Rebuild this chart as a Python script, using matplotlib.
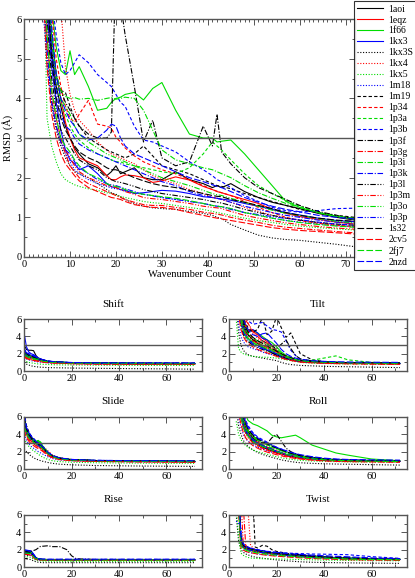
import matplotlib
matplotlib.use('Agg')
import matplotlib.pyplot as plt
from matplotlib.ticker import MultipleLocator

plt.rcParams['font.family'] = ['Liberation Serif', 'DejaVu Serif']

labels = ['1aoi', '1eqz', '1f66', '1kx3', '1kx3S', '1kx4', '1kx5', '1m18', '1m19', '1p34',
          '1p3a', '1p3b', '1p3f', '1p3g', '1p3i', '1p3k', '1p3l', '1p3m', '1p3o', '1p3p',
          '1s32', '2cv5', '2fj7', '2nzd']

# main panel: total RMSD vs wavenumber count
x_main = [4, 5, 6, 7, 8, 9, 10, 11, 12, 14, 16, 18, 19, 20, 21, 22, 24, 26, 28, 30, 33, 36, 39,
          41, 42, 43, 45, 48, 51, 54, 57, 60, 64, 68, 72]
rmsd_main = [
    [9.0, 6.4, 5.2, 4.3, 3.8, 3.3, 3.0, 2.75, 2.6, 2.35, 2.25, 2.05, 2.15, 2.3, 2.1, 2.15, 2.25, 2.0, 1.95, 1.95, 2.15, 1.95, 1.85, 1.75, 1.8, 1.75, 1.85, 1.65, 1.5, 1.38, 1.3, 1.22, 1.1, 1.0, 0.93],
    [9.5, 7.0, 5.6, 4.6, 4.0, 3.4, 3.0, 2.7, 2.5, 2.4, 2.3, 2.05, 1.95, 1.95, 2.02, 2.07, 2.05, 2.0, 1.88, 1.92, 2.02, 1.94, 1.78, 1.7, 1.65, 1.62, 1.55, 1.45, 1.35, 1.2, 1.1, 1.02, 0.95, 0.88, 0.83],
    [9.0, 7.5, 6.3, 5.3, 4.7, 4.6, 5.2, 4.6, 4.8, 4.3, 3.7, 3.75, 3.9, 4.0, 4.03, 4.1, 4.15, 3.96, 4.25, 4.4, 3.7, 3.1, 3.0, 3.0, 2.9, 2.92, 2.95, 2.6, 2.2, 1.8, 1.4, 1.25, 1.12, 1.03, 0.97],
    [8.5, 6.2, 4.8, 3.9, 3.2, 2.7, 2.45, 2.35, 2.2, 2.3, 2.1, 1.85, 1.77, 1.75, 1.7, 1.68, 1.6, 1.62, 1.65, 1.68, 1.66, 1.6, 1.52, 1.5, 1.48, 1.46, 1.43, 1.35, 1.28, 1.2, 1.12, 1.06, 0.98, 0.92, 0.89],
    [7.5, 5.0, 3.8, 3.2, 2.8, 2.5, 2.3, 2.15, 2.1, 2.0, 1.85, 1.7, 1.62, 1.58, 1.52, 1.45, 1.35, 1.28, 1.24, 1.22, 1.2, 1.15, 1.1, 1.05, 1.0, 0.97, 0.82, 0.68, 0.55, 0.48, 0.44, 0.42, 0.37, 0.32, 0.26],
    [9.5, 9.0, 8.5, 7.5, 6.3, 4.8, 4.1, 3.7, 3.45, 3.2, 2.9, 2.7, 2.6, 2.55, 2.5, 2.45, 2.35, 2.2, 2.05, 1.95, 1.85, 1.7, 1.6, 1.5, 1.48, 1.45, 1.38, 1.25, 1.15, 1.05, 0.98, 0.93, 0.86, 0.8, 0.75],
    [9.0, 3.5, 2.8, 2.4, 2.1, 1.95, 1.88, 1.82, 1.78, 1.72, 1.68, 1.62, 1.6, 1.56, 1.52, 1.5, 1.45, 1.4, 1.37, 1.35, 1.3, 1.25, 1.2, 1.15, 1.12, 1.1, 1.05, 0.98, 0.92, 0.87, 0.82, 0.78, 0.74, 0.71, 0.68],
    [6.5, 4.8, 3.9, 3.3, 2.9, 2.6, 2.4, 2.2, 2.1, 1.95, 1.85, 1.78, 1.74, 1.72, 1.7, 1.66, 1.62, 1.58, 1.55, 1.5, 1.45, 1.4, 1.35, 1.3, 1.28, 1.27, 1.22, 1.12, 1.05, 0.98, 0.92, 0.88, 0.83, 0.79, 0.76],
    [9.0, 7.0, 5.2, 4.25, 4.2, 4.15, 3.8, 3.5, 3.3, 3.0, 2.85, 2.7, 2.65, 2.6, 2.55, 2.5, 2.6, 2.8, 2.55, 2.3, 2.2, 2.1, 1.95, 1.85, 1.8, 1.78, 1.72, 1.6, 1.5, 1.4, 1.3, 1.2, 1.12, 1.05, 1.0],
    [9.5, 8.0, 6.2, 5.0, 4.3, 3.8, 3.5, 3.4, 3.6, 3.95, 3.35, 3.3, 3.25, 3.02, 2.9, 2.75, 2.55, 2.4, 2.3, 2.2, 2.1, 1.95, 1.8, 1.7, 1.66, 1.62, 1.55, 1.4, 1.25, 1.12, 1.0, 0.92, 0.85, 0.8, 0.77],
    [9.0, 7.0, 5.5, 4.5, 3.9, 3.6, 3.3, 3.1, 2.95, 2.75, 2.6, 2.5, 2.45, 2.4, 2.4, 2.35, 2.3, 2.25, 2.2, 2.15, 2.1, 2.25, 2.6, 2.9, 2.8, 2.7, 2.45, 2.1, 1.8, 1.6, 1.42, 1.28, 1.12, 1.02, 0.95],
    [9.5, 8.0, 6.5, 5.6, 4.9, 4.6, 4.7, 4.9, 5.1, 4.9, 4.6, 4.4, 4.3, 4.1, 3.9, 3.8, 3.3, 2.95, 2.9, 2.8, 2.65, 2.4, 2.2, 2.05, 1.95, 1.9, 1.75, 1.55, 1.4, 1.25, 1.17, 1.13, 1.17, 1.22, 1.23],
    [9.0, 7.0, 5.5, 4.6, 4.2, 3.9, 3.7, 3.5, 3.3, 3.1, 3.0, 3.0, 3.15, 7.5, 6.4, 5.6, 4.3, 2.9, 3.45, 2.5, 2.3, 2.4, 3.3, 2.8, 3.6, 2.65, 2.35, 2.0, 1.75, 1.6, 1.45, 1.3, 1.15, 1.05, 0.95],
    [8.0, 5.5, 4.2, 3.5, 3.0, 2.6, 2.3, 2.15, 2.0, 1.85, 1.75, 1.65, 1.6, 1.55, 1.5, 1.45, 1.38, 1.32, 1.3, 1.3, 1.25, 1.2, 1.13, 1.1, 1.08, 1.06, 1.0, 0.93, 0.87, 0.8, 0.75, 0.72, 0.68, 0.64, 0.61],
    [9.0, 7.0, 5.5, 4.6, 4.2, 4.05, 4.0, 4.02, 3.98, 4.0, 3.95, 4.0, 4.02, 3.98, 4.0, 4.03, 4.0, 3.7, 3.2, 2.7, 2.45, 2.35, 2.25, 2.2, 2.15, 2.1, 2.0, 1.8, 1.62, 1.48, 1.35, 1.25, 1.12, 1.03, 0.97],
    [9.0, 7.0, 5.2, 4.2, 3.6, 3.3, 3.2, 3.0, 2.85, 2.7, 2.6, 2.5, 2.45, 2.4, 2.35, 2.3, 2.2, 2.1, 2.0, 1.9, 1.8, 1.65, 1.55, 1.5, 1.48, 1.45, 1.38, 1.28, 1.2, 1.12, 1.05, 1.0, 0.93, 0.88, 0.85],
    [8.5, 6.0, 4.5, 3.7, 3.2, 3.0, 2.8, 2.6, 2.45, 2.3, 2.2, 2.0, 1.95, 1.9, 1.88, 1.85, 1.78, 1.7, 1.65, 1.6, 1.55, 1.5, 1.45, 1.4, 1.38, 1.36, 1.3, 1.2, 1.12, 1.05, 0.98, 0.93, 0.87, 0.83, 0.8],
    [8.0, 5.5, 4.0, 3.3, 2.9, 2.7, 2.5, 2.3, 2.15, 2.0, 1.9, 1.8, 1.78, 1.75, 1.7, 1.65, 1.58, 1.5, 1.47, 1.45, 1.4, 1.35, 1.28, 1.25, 1.24, 1.22, 1.15, 1.05, 0.98, 0.92, 0.86, 0.82, 0.77, 0.73, 0.7],
    [9.0, 7.5, 5.8, 4.6, 4.0, 3.8, 3.6, 3.3, 3.1, 2.9, 2.75, 2.6, 2.55, 2.5, 2.45, 2.4, 2.3, 2.2, 2.1, 2.0, 1.9, 1.8, 1.68, 1.6, 1.57, 1.55, 1.48, 1.38, 1.28, 1.18, 1.1, 1.05, 0.97, 0.9, 0.86],
    [7.5, 5.2, 3.9, 3.3, 2.9, 2.7, 2.6, 2.4, 2.25, 2.1, 1.95, 1.85, 1.82, 1.8, 1.76, 1.72, 1.65, 1.58, 1.54, 1.5, 1.45, 1.4, 1.35, 1.3, 1.28, 1.26, 1.2, 1.12, 1.07, 1.02, 0.97, 0.94, 0.88, 0.83, 0.8],
    [9.0, 6.8, 5.0, 4.0, 3.5, 3.2, 3.0, 2.8, 2.65, 2.5, 2.4, 2.25, 2.2, 2.2, 2.15, 2.1, 2.0, 1.92, 1.85, 1.8, 1.75, 1.68, 1.6, 1.55, 1.53, 1.52, 1.45, 1.38, 1.3, 1.22, 1.12, 1.05, 0.98, 0.93, 0.9],
    [7.0, 4.8, 3.6, 3.0, 2.6, 2.35, 2.2, 2.05, 1.92, 1.75, 1.65, 1.55, 1.5, 1.48, 1.45, 1.4, 1.32, 1.28, 1.25, 1.25, 1.2, 1.12, 1.05, 1.0, 0.98, 0.96, 0.92, 0.86, 0.8, 0.74, 0.7, 0.67, 0.64, 0.61, 0.58],
    [8.0, 5.6, 4.2, 3.5, 3.0, 2.8, 2.65, 2.45, 2.3, 2.1, 2.0, 1.85, 1.8, 1.78, 1.75, 1.7, 1.62, 1.58, 1.55, 1.52, 1.48, 1.42, 1.35, 1.3, 1.28, 1.27, 1.22, 1.12, 1.05, 0.98, 0.92, 0.87, 0.82, 0.78, 0.75],
    [9.0, 7.5, 5.8, 4.6, 4.0, 3.7, 3.45, 3.3, 3.1, 2.95, 3.0, 3.2, 3.35, 3.3, 3.0, 2.8, 2.6, 2.5, 2.4, 2.3, 2.15, 2.0, 1.9, 1.82, 1.78, 1.75, 1.65, 1.5, 1.38, 1.28, 1.2, 1.14, 1.05, 1.0, 0.96],
]

x_shift = [0, 1, 2, 3, 4, 5, 6, 8, 10, 14, 20, 30, 45, 60, 72]
shift = [
    [3.0, 2.5, 2.4, 2.4, 2.35, 1.8, 1.5, 1.25, 1.1, 1.0, 0.92, 0.88, 0.85, 0.86, 0.85],
    [2.0, 1.8, 1.7, 1.6, 1.5, 1.4, 1.3, 1.15, 1.05, 0.98, 0.92, 0.88, 0.86, 0.85, 0.84],
    [2.2, 1.9, 1.75, 1.6, 1.55, 1.45, 1.35, 1.2, 1.1, 1.02, 0.95, 0.9, 0.88, 0.87, 0.86],
    [4.4, 2.8, 2.2, 2.0, 1.9, 1.7, 1.5, 1.3, 1.15, 1.05, 0.95, 0.9, 0.88, 0.87, 0.86],
    [1.0, 0.8, 0.7, 0.6, 0.55, 0.5, 0.47, 0.43, 0.4, 0.38, 0.35, 0.32, 0.28, 0.25, 0.22],
    [1.8, 1.6, 1.5, 1.4, 1.35, 1.3, 1.25, 1.15, 1.05, 0.98, 0.92, 0.88, 0.85, 0.84, 0.83],
    [1.3, 1.1, 1.0, 0.95, 0.9, 0.86, 0.82, 0.78, 0.75, 0.72, 0.7, 0.68, 0.66, 0.65, 0.64],
    [1.6, 1.4, 1.3, 1.2, 1.15, 1.1, 1.05, 1.0, 0.95, 0.9, 0.86, 0.83, 0.8, 0.8, 0.79],
    [2.4, 2.0, 1.8, 1.7, 1.65, 1.55, 1.4, 1.25, 1.12, 1.03, 0.96, 0.92, 0.9, 0.9, 0.89],
    [1.9, 1.7, 1.6, 1.5, 1.45, 1.4, 1.3, 1.18, 1.08, 1.0, 0.93, 0.88, 0.86, 0.85, 0.85],
    [2.1, 1.8, 1.7, 1.6, 1.5, 1.42, 1.35, 1.22, 1.1, 1.02, 0.96, 0.9, 0.88, 0.87, 0.86],
    [2.6, 2.2, 2.0, 1.9, 1.85, 1.7, 1.5, 1.3, 1.15, 1.05, 0.98, 0.95, 0.93, 0.93, 0.92],
    [2.3, 2.0, 1.85, 1.7, 1.6, 1.5, 1.4, 1.25, 1.12, 1.04, 0.96, 0.92, 0.9, 0.89, 0.88],
    [1.7, 1.5, 1.4, 1.3, 1.25, 1.2, 1.15, 1.05, 0.98, 0.92, 0.86, 0.82, 0.8, 0.79, 0.78],
    [2.0, 1.75, 1.6, 1.5, 1.45, 1.4, 1.3, 1.18, 1.08, 1.0, 0.94, 0.9, 0.88, 0.87, 0.87],
    [2.5, 2.1, 1.9, 1.8, 1.7, 1.6, 1.45, 1.28, 1.12, 1.03, 0.96, 0.91, 0.89, 0.88, 0.88],
    [2.1, 1.85, 1.7, 1.6, 1.55, 1.45, 1.35, 1.2, 1.08, 1.0, 0.93, 0.89, 0.87, 0.86, 0.86],
    [1.8, 1.6, 1.5, 1.4, 1.35, 1.3, 1.22, 1.1, 1.02, 0.95, 0.88, 0.84, 0.82, 0.81, 0.8],
    [2.2, 1.9, 1.75, 1.65, 1.6, 1.5, 1.4, 1.25, 1.12, 1.04, 0.97, 0.92, 0.9, 0.9, 0.89],
    [2.0, 1.75, 1.6, 1.5, 1.45, 1.38, 1.3, 1.18, 1.07, 0.99, 0.93, 0.89, 0.87, 0.86, 0.86],
    [2.3, 2.0, 1.85, 1.75, 1.65, 1.55, 1.42, 1.27, 1.13, 1.04, 0.97, 0.93, 0.91, 0.9, 0.9],
    [1.6, 1.45, 1.35, 1.28, 1.22, 1.18, 1.12, 1.03, 0.96, 0.9, 0.85, 0.81, 0.79, 0.78, 0.77],
    [1.9, 1.7, 1.55, 1.45, 1.4, 1.35, 1.28, 1.15, 1.05, 0.98, 0.92, 0.88, 0.86, 0.85, 0.85],
    [2.4, 2.1, 1.95, 1.85, 1.75, 1.62, 1.48, 1.3, 1.15, 1.06, 0.99, 0.95, 0.94, 0.95, 0.94],
]

x_tilt = [3, 4, 5, 6, 7, 8, 10, 12, 14, 16, 18, 20, 22, 24, 26, 28, 30, 35, 40, 45, 50, 60, 72]
tilt = [
    [9, 8, 6.5, 5.0, 4.5, 4.2, 3.6, 3.2, 2.8, 2.4, 2.1, 1.8, 1.6, 1.4, 1.3, 1.2, 1.1, 1.0, 0.95, 0.92, 0.9, 0.88, 0.86],
    [9, 8, 7, 6.0, 5.2, 4.8, 4.6, 4.2, 3.8, 3.4, 3.0, 2.4, 1.9, 1.6, 1.4, 1.25, 1.12, 1.0, 0.95, 0.93, 0.9, 0.88, 0.86],
    [9, 8, 6.8, 5.5, 5.0, 4.6, 4.7, 4.4, 4.0, 3.6, 3.3, 2.8, 2.2, 1.8, 1.5, 1.3, 1.15, 1.05, 1.0, 0.98, 0.95, 0.9, 0.88],
    [9, 8, 6.2, 5.2, 4.6, 4.5, 4.8, 4.4, 3.8, 3.6, 3.0, 2.3, 1.8, 1.5, 1.3, 1.18, 1.1, 1.0, 0.96, 0.94, 0.92, 0.9, 0.88],
    [8, 4.5, 3.0, 2.4, 2.1, 1.9, 1.7, 1.6, 1.5, 1.4, 1.3, 1.2, 1.0, 0.85, 0.75, 0.7, 0.65, 0.6, 0.55, 0.52, 0.5, 0.45, 0.4],
    [9, 9, 8, 7, 6.2, 5.5, 4.4, 3.8, 3.3, 3.0, 2.7, 2.3, 1.9, 1.6, 1.4, 1.25, 1.15, 1.05, 1.0, 0.96, 0.92, 0.88, 0.85],
    [6.0, 2.6, 2.2, 2.0, 1.9, 1.8, 1.7, 1.65, 1.6, 1.6, 1.55, 1.5, 1.4, 1.3, 1.2, 1.1, 1.0, 0.92, 0.88, 0.85, 0.82, 0.8, 0.78],
    [8, 5.5, 4.0, 3.4, 3.0, 2.8, 2.6, 2.4, 2.2, 2.0, 1.9, 1.75, 1.6, 1.45, 1.3, 1.2, 1.1, 1.0, 0.95, 0.9, 0.88, 0.86, 0.84],
    [9, 8, 7, 6.2, 5.5, 5.0, 4.5, 4.8, 6.2, 4.2, 4.6, 6.3, 5.0, 3.9, 4.4, 3.2, 2.0, 1.3, 1.1, 1.0, 0.96, 0.92, 0.9],
    [9, 8.5, 7, 6.0, 5.2, 4.6, 3.8, 3.3, 3.0, 2.7, 2.4, 2.0, 1.7, 1.5, 1.35, 1.22, 1.12, 1.02, 0.97, 0.93, 0.9, 0.87, 0.85],
    [9, 7.5, 5.8, 4.6, 4.0, 3.6, 3.2, 3.0, 2.7, 2.4, 2.2, 2.0, 1.8, 1.6, 1.4, 1.3, 1.2, 1.25, 1.5, 1.75, 1.3, 1.0, 0.95],
    [9, 9, 8, 7, 6.2, 5.8, 5.4, 5.5, 5.6, 5.2, 4.8, 4.7, 4.5, 3.5, 2.4, 1.8, 1.4, 1.15, 1.05, 1.0, 0.98, 0.96, 0.95],
    [9, 8, 6.5, 5.4, 4.7, 4.2, 3.6, 3.3, 3.5, 3.2, 2.9, 2.6, 3.1, 3.6, 2.6, 1.8, 1.4, 1.15, 1.05, 1.0, 0.96, 0.93, 0.9],
    [9, 8.5, 6.5, 6.2, 5.8, 5.5, 4.6, 4.0, 3.5, 3.2, 2.8, 2.3, 1.9, 1.6, 1.4, 1.25, 1.12, 1.02, 0.96, 0.92, 0.89, 0.86, 0.84],
    [9, 7, 5.5, 4.5, 4.0, 3.7, 3.4, 3.2, 3.0, 2.8, 2.5, 2.2, 1.9, 1.65, 1.45, 1.3, 1.2, 1.1, 1.05, 1.0, 0.96, 0.92, 0.9],
    [9, 7.5, 6.0, 4.8, 4.3, 3.8, 3.2, 2.9, 2.7, 2.5, 2.3, 2.0, 1.75, 1.55, 1.4, 1.28, 1.17, 1.05, 1.0, 0.96, 0.93, 0.9, 0.88],
    [9, 7, 5.3, 4.2, 3.7, 3.4, 3.0, 2.7, 2.5, 2.3, 2.1, 1.9, 1.7, 1.5, 1.35, 1.25, 1.15, 1.05, 1.0, 0.95, 0.92, 0.9, 0.88],
    [9, 8, 6.2, 5.0, 4.4, 4.0, 3.5, 3.2, 3.0, 2.7, 2.5, 2.2, 1.9, 1.65, 1.45, 1.3, 1.18, 1.06, 1.0, 0.95, 0.92, 0.89, 0.86],
    [9, 8, 6.5, 5.5, 4.8, 4.3, 3.8, 3.5, 3.3, 3.1, 2.8, 2.5, 2.1, 1.8, 1.55, 1.38, 1.25, 1.12, 1.05, 1.0, 0.97, 0.93, 0.9],
    [9, 7, 5.5, 4.5, 4.0, 3.6, 3.1, 2.8, 2.6, 2.4, 2.2, 2.0, 1.8, 1.6, 1.42, 1.3, 1.18, 1.07, 1.0, 0.96, 0.93, 0.9, 0.88],
    [9, 8, 6.8, 5.8, 5.0, 4.5, 3.9, 3.5, 3.2, 2.9, 2.6, 2.3, 2.0, 1.75, 1.55, 1.38, 1.25, 1.12, 1.05, 1.0, 0.98, 0.95, 0.92],
    [9, 6.5, 4.8, 4.0, 3.5, 3.2, 2.8, 2.5, 2.3, 2.1, 1.9, 1.7, 1.5, 1.35, 1.22, 1.12, 1.03, 0.95, 0.9, 0.86, 0.83, 0.8, 0.78],
    [9, 7.5, 5.8, 4.8, 4.2, 3.8, 3.3, 3.0, 2.8, 2.6, 2.4, 2.1, 1.85, 1.62, 1.45, 1.32, 1.2, 1.08, 1.02, 0.98, 0.95, 0.92, 0.9],
    [9, 8.5, 7, 6.0, 5.3, 4.8, 4.2, 4.0, 4.3, 4.4, 3.8, 3.2, 2.5, 2.0, 1.7, 1.5, 1.35, 1.2, 1.12, 1.08, 1.05, 1.02, 1.0],
]

x_slide = [0, 1, 2, 3, 4, 5, 6, 7, 8, 10, 12, 15, 20, 30, 45, 60, 72]
slide = [
    [6.5, 4.5, 4.0, 3.6, 3.3, 3.0, 2.9, 2.7, 2.4, 1.8, 1.45, 1.2, 1.05, 0.95, 0.9, 0.88, 0.86],
    [5.5, 4.2, 3.8, 3.5, 3.2, 3.0, 2.8, 2.6, 2.3, 1.75, 1.4, 1.18, 1.03, 0.93, 0.88, 0.86, 0.84],
    [5.8, 4.4, 3.9, 3.6, 3.4, 3.1, 3.2, 3.0, 2.5, 1.9, 1.5, 1.25, 1.08, 0.98, 0.92, 0.9, 0.88],
    [6.2, 4.6, 4.1, 3.7, 3.4, 3.1, 2.9, 2.7, 2.4, 1.85, 1.45, 1.2, 1.05, 0.95, 0.9, 0.88, 0.86],
    [2.3, 2.0, 1.7, 1.5, 1.3, 1.15, 1.05, 0.95, 0.88, 0.75, 0.65, 0.55, 0.48, 0.4, 0.35, 0.32, 0.3],
    [5.0, 4.0, 3.6, 3.4, 3.2, 3.0, 2.9, 2.8, 2.6, 2.1, 1.6, 1.3, 1.1, 0.97, 0.9, 0.87, 0.85],
    [3.5, 3.0, 2.6, 2.3, 2.1, 1.9, 1.7, 1.5, 1.35, 1.1, 0.95, 0.85, 0.78, 0.72, 0.68, 0.66, 0.65],
    [4.0, 3.3, 2.9, 2.6, 2.4, 2.2, 2.0, 1.85, 1.7, 1.4, 1.2, 1.05, 0.95, 0.88, 0.84, 0.82, 0.8],
    [6.5, 5.0, 4.3, 3.8, 3.5, 3.2, 3.0, 2.8, 2.5, 1.9, 1.5, 1.25, 1.08, 0.97, 0.92, 0.9, 0.88],
    [5.5, 4.3, 3.8, 3.4, 3.1, 2.9, 2.8, 2.6, 2.3, 1.8, 1.45, 1.2, 1.05, 0.95, 0.9, 0.87, 0.85],
    [6.0, 4.6, 4.0, 3.6, 3.3, 3.0, 3.2, 3.0, 2.6, 1.95, 1.5, 1.22, 1.06, 0.96, 0.91, 0.89, 0.87],
    [6.5, 4.8, 4.2, 3.8, 3.5, 3.2, 3.0, 2.8, 2.5, 1.95, 1.55, 1.28, 1.1, 1.0, 0.95, 0.93, 0.92],
    [5.8, 4.5, 4.0, 3.6, 3.3, 3.0, 2.9, 2.7, 2.4, 1.85, 1.48, 1.22, 1.06, 0.96, 0.91, 0.89, 0.87],
    [4.8, 3.8, 3.4, 3.1, 2.9, 2.7, 2.5, 2.3, 2.1, 1.65, 1.35, 1.12, 0.98, 0.9, 0.85, 0.83, 0.81],
    [5.6, 4.4, 3.9, 3.5, 3.3, 3.1, 3.3, 3.1, 2.6, 1.9, 1.5, 1.22, 1.06, 0.96, 0.9, 0.88, 0.86],
    [6.2, 4.7, 4.1, 3.7, 3.4, 3.1, 2.9, 2.7, 2.45, 1.9, 1.5, 1.24, 1.07, 0.97, 0.92, 0.9, 0.88],
    [5.2, 4.1, 3.7, 3.4, 3.1, 2.9, 2.8, 2.6, 2.3, 1.8, 1.45, 1.2, 1.04, 0.95, 0.9, 0.88, 0.86],
    [4.9, 3.9, 3.5, 3.2, 3.0, 2.8, 2.6, 2.4, 2.2, 1.7, 1.38, 1.15, 1.0, 0.92, 0.87, 0.84, 0.82],
    [5.8, 4.5, 4.0, 3.6, 3.4, 3.2, 3.3, 3.0, 2.55, 1.95, 1.52, 1.25, 1.08, 0.97, 0.92, 0.9, 0.88],
    [5.3, 4.2, 3.7, 3.4, 3.1, 2.9, 2.7, 2.5, 2.3, 1.8, 1.42, 1.18, 1.03, 0.94, 0.89, 0.87, 0.85],
    [6.0, 4.6, 4.0, 3.6, 3.3, 3.0, 2.9, 2.75, 2.45, 1.88, 1.5, 1.24, 1.07, 0.97, 0.92, 0.9, 0.89],
    [4.5, 3.6, 3.2, 2.9, 2.7, 2.5, 2.35, 2.2, 2.0, 1.55, 1.28, 1.08, 0.95, 0.87, 0.82, 0.8, 0.78],
    [5.0, 4.0, 3.6, 3.3, 3.1, 2.9, 2.8, 2.6, 2.3, 1.8, 1.42, 1.18, 1.03, 0.94, 0.89, 0.87, 0.85],
    [6.3, 4.8, 4.2, 3.8, 3.5, 3.2, 3.0, 2.85, 2.55, 1.95, 1.55, 1.28, 1.1, 1.0, 0.96, 0.95, 0.94],
]

x_roll = [3, 4, 5, 6, 7, 8, 10, 12, 14, 16, 18, 20, 22, 24, 26, 28, 30, 35, 40, 45, 50, 60, 72]
roll = [
    [9, 9, 7, 5.5, 4.8, 4.3, 3.5, 3.0, 2.7, 2.4, 2.2, 2.0, 1.8, 1.65, 1.5, 1.4, 1.3, 1.15, 1.05, 1.0, 0.95, 0.9, 0.88],
    [9, 8, 6.5, 5.2, 4.5, 4.0, 3.3, 2.9, 2.6, 2.3, 2.1, 1.9, 1.75, 1.6, 1.45, 1.35, 1.25, 1.12, 1.02, 0.98, 0.94, 0.9, 0.87],
    [9, 9, 8, 7, 6.2, 5.6, 5.2, 5.0, 4.7, 4.4, 3.9, 3.7, 3.6, 3.7, 3.8, 3.9, 3.6, 2.75, 2.3, 1.85, 1.6, 1.15, 0.95],
    [9, 8, 6.5, 5.0, 4.3, 3.9, 3.3, 3.0, 2.7, 2.45, 2.25, 2.0, 1.8, 1.65, 1.5, 1.4, 1.3, 1.15, 1.05, 1.0, 0.96, 0.92, 0.9],
    [7, 5.0, 4.0, 3.3, 2.9, 2.6, 2.2, 1.9, 1.7, 1.5, 1.35, 1.2, 1.05, 0.95, 0.85, 0.78, 0.72, 0.65, 0.6, 0.57, 0.55, 0.5, 0.45],
    [9, 9, 8, 6.5, 5.5, 4.8, 3.8, 3.2, 2.9, 2.6, 2.3, 2.05, 1.85, 1.7, 1.55, 1.42, 1.32, 1.15, 1.05, 1.0, 0.96, 0.92, 0.88],
    [5.5, 4.0, 3.4, 3.0, 2.7, 2.5, 2.2, 2.0, 1.85, 1.7, 1.55, 1.42, 1.3, 1.2, 1.12, 1.05, 1.0, 0.92, 0.88, 0.85, 0.82, 0.8, 0.78],
    [8, 6, 4.8, 4.0, 3.5, 3.2, 2.8, 2.5, 2.3, 2.1, 1.95, 1.8, 1.65, 1.52, 1.42, 1.33, 1.25, 1.1, 1.0, 0.95, 0.92, 0.88, 0.85],
    [9, 9, 7.5, 6.0, 5.2, 4.6, 3.8, 3.4, 3.1, 2.8, 2.6, 2.4, 2.2, 2.0, 1.8, 1.65, 1.5, 1.3, 1.15, 1.08, 1.02, 0.97, 0.93],
    [9, 8.5, 7, 5.6, 4.8, 4.2, 3.5, 3.1, 2.8, 2.5, 2.3, 2.1, 1.9, 1.72, 1.58, 1.45, 1.35, 1.18, 1.06, 1.0, 0.95, 0.9, 0.87],
    [9, 8.5, 7, 5.8, 5.0, 4.5, 3.8, 3.4, 3.2, 3.0, 2.7, 2.4, 2.1, 1.9, 1.75, 1.6, 1.48, 1.28, 1.12, 1.05, 1.0, 0.95, 0.92],
    [9, 9, 8, 6.5, 5.6, 5.0, 4.2, 3.7, 3.4, 3.1, 2.8, 2.5, 2.3, 2.1, 1.9, 1.75, 1.6, 1.35, 1.2, 1.12, 1.06, 1.0, 0.97],
    [9, 8.5, 7, 5.5, 4.8, 4.3, 3.6, 3.2, 3.0, 2.9, 3.6, 4.0, 3.2, 2.4, 2.0, 1.75, 1.58, 1.32, 1.15, 1.07, 1.02, 0.96, 0.92],
    [9, 7.5, 6.0, 4.8, 4.2, 3.7, 3.1, 2.7, 2.45, 2.2, 2.0, 1.82, 1.65, 1.5, 1.4, 1.3, 1.22, 1.08, 0.98, 0.93, 0.9, 0.86, 0.84],
    [9, 8, 6.5, 5.3, 4.6, 4.1, 3.4, 3.0, 2.8, 2.6, 2.45, 2.3, 2.1, 1.9, 1.72, 1.58, 1.45, 1.25, 1.1, 1.03, 0.98, 0.93, 0.9],
    [9, 8, 6.4, 5.1, 4.4, 4.0, 3.4, 3.0, 2.75, 2.5, 2.3, 2.1, 1.9, 1.75, 1.6, 1.48, 1.38, 1.2, 1.08, 1.02, 0.97, 0.92, 0.89],
    [9, 7.5, 6.0, 4.9, 4.2, 3.8, 3.2, 2.8, 2.55, 2.3, 2.1, 1.92, 1.75, 1.6, 1.48, 1.38, 1.3, 1.14, 1.03, 0.98, 0.94, 0.9, 0.87],
    [9, 7.5, 6.0, 4.8, 4.1, 3.6, 3.0, 2.65, 2.4, 2.2, 2.0, 1.85, 1.7, 1.55, 1.44, 1.35, 1.26, 1.1, 1.0, 0.95, 0.92, 0.88, 0.85],
    [9, 8.5, 7, 5.6, 4.9, 4.4, 3.7, 3.3, 3.0, 2.8, 2.55, 2.35, 2.15, 1.95, 1.78, 1.62, 1.5, 1.3, 1.15, 1.07, 1.02, 0.96, 0.92],
    [9, 7.8, 6.2, 5.0, 4.3, 3.9, 3.3, 2.9, 2.65, 2.4, 2.2, 2.0, 1.82, 1.67, 1.54, 1.43, 1.34, 1.17, 1.05, 1.0, 0.96, 0.91, 0.88],
    [9, 9, 7.5, 6.0, 5.2, 4.6, 3.9, 3.5, 3.2, 2.9, 2.65, 2.42, 2.2, 2.0, 1.82, 1.67, 1.53, 1.32, 1.16, 1.08, 1.03, 0.97, 0.93],
    [8, 6.5, 5.2, 4.2, 3.6, 3.2, 2.7, 2.4, 2.15, 1.95, 1.8, 1.65, 1.52, 1.4, 1.3, 1.22, 1.15, 1.02, 0.93, 0.88, 0.85, 0.81, 0.78],
    [9, 7.5, 6.0, 4.8, 4.2, 3.8, 3.2, 2.85, 2.6, 2.4, 2.2, 2.0, 1.85, 1.7, 1.56, 1.45, 1.36, 1.18, 1.06, 1.0, 0.95, 0.9, 0.87],
    [9, 9, 7.8, 6.2, 5.4, 4.8, 4.1, 3.6, 3.3, 3.0, 2.75, 2.5, 2.3, 2.1, 1.92, 1.78, 1.65, 1.42, 1.25, 1.15, 1.1, 1.05, 1.02],
]

x_rise = [0, 1, 2, 3, 4, 5, 6, 7, 8, 10, 12, 15, 18, 20, 22, 30, 45, 60, 72]
rise = [
    [1.9, 1.9, 1.85, 1.8, 1.3, 1.0, 0.92, 0.88, 0.86, 0.85, 0.84, 0.84, 0.83, 0.83, 0.83, 0.83, 0.83, 0.82, 0.82],
    [1.7, 1.7, 1.65, 1.6, 1.2, 0.95, 0.88, 0.85, 0.84, 0.83, 0.82, 0.82, 0.82, 0.81, 0.81, 0.81, 0.81, 0.8, 0.8],
    [1.8, 1.8, 1.75, 1.7, 1.35, 1.05, 0.95, 0.9, 0.88, 0.86, 0.85, 0.85, 0.84, 0.84, 0.84, 0.84, 0.83, 0.83, 0.83],
    [2.0, 1.95, 1.9, 1.85, 1.5, 1.1, 0.95, 0.9, 0.87, 0.86, 0.85, 0.85, 0.84, 0.84, 0.84, 0.84, 0.84, 0.83, 0.83],
    [1.0, 0.95, 0.9, 0.85, 0.7, 0.6, 0.55, 0.52, 0.5, 0.5, 0.5, 0.5, 0.5, 0.5, 0.5, 0.5, 0.5, 0.5, 0.5],
    [1.6, 1.6, 1.55, 1.5, 1.2, 0.95, 0.88, 0.85, 0.84, 0.83, 0.82, 0.82, 0.82, 0.81, 0.81, 0.81, 0.8, 0.8, 0.8],
    [1.2, 1.2, 1.15, 1.1, 0.9, 0.78, 0.72, 0.7, 0.68, 0.67, 0.66, 0.66, 0.66, 0.65, 0.65, 0.65, 0.65, 0.65, 0.65],
    [1.4, 1.4, 1.35, 1.3, 1.05, 0.88, 0.82, 0.79, 0.78, 0.77, 0.77, 0.77, 0.76, 0.76, 0.76, 0.76, 0.76, 0.75, 0.75],
    [1.0, 0.95, 1.75, 1.7, 1.3, 1.0, 0.92, 0.88, 0.86, 0.85, 0.85, 0.85, 0.85, 0.85, 0.85, 0.85, 0.85, 0.84, 0.84],
    [1.7, 1.7, 1.65, 1.6, 1.25, 0.98, 0.9, 0.86, 0.84, 0.83, 0.83, 0.83, 0.82, 0.82, 0.82, 0.82, 0.82, 0.81, 0.81],
    [1.8, 1.75, 1.7, 1.65, 1.3, 1.0, 0.92, 0.88, 0.86, 0.85, 0.84, 0.84, 0.84, 0.84, 0.84, 0.84, 0.84, 0.83, 0.83],
    [1.9, 1.85, 1.8, 1.75, 1.4, 1.05, 0.95, 0.91, 0.89, 0.88, 0.88, 0.88, 0.88, 0.88, 0.88, 0.88, 0.88, 0.88, 0.88],
    [1.6, 1.6, 1.65, 1.8, 1.9, 2.0, 2.2, 2.4, 2.4, 2.45, 2.35, 2.35, 2.0, 1.3, 0.95, 0.87, 0.86, 0.86, 0.85],
    [1.5, 1.5, 1.45, 1.4, 1.1, 0.9, 0.84, 0.81, 0.8, 0.79, 0.79, 0.79, 0.79, 0.79, 0.79, 0.79, 0.78, 0.78, 0.78],
    [1.75, 1.7, 1.65, 1.6, 1.28, 1.0, 0.9, 0.87, 0.85, 0.84, 0.84, 0.84, 0.83, 0.83, 0.83, 0.83, 0.83, 0.83, 0.83],
    [1.85, 1.8, 1.75, 1.7, 1.35, 1.02, 0.93, 0.89, 0.87, 0.86, 0.85, 0.85, 0.85, 0.85, 0.85, 0.85, 0.85, 0.84, 0.84],
    [1.7, 1.65, 1.6, 1.55, 1.22, 0.96, 0.89, 0.86, 0.84, 0.83, 0.83, 0.83, 0.83, 0.83, 0.82, 0.82, 0.82, 0.82, 0.82],
    [1.55, 1.55, 1.5, 1.45, 1.15, 0.92, 0.86, 0.83, 0.81, 0.8, 0.8, 0.8, 0.8, 0.8, 0.8, 0.8, 0.79, 0.79, 0.79],
    [1.8, 1.8, 1.75, 1.7, 1.32, 1.02, 0.93, 0.89, 0.87, 0.86, 0.85, 0.85, 0.85, 0.85, 0.85, 0.85, 0.84, 0.84, 0.84],
    [1.65, 1.6, 1.55, 1.5, 1.18, 0.94, 0.87, 0.84, 0.83, 0.82, 0.82, 0.82, 0.82, 0.82, 0.82, 0.81, 0.81, 0.81, 0.81],
    [1.85, 1.8, 1.75, 1.7, 1.33, 1.02, 0.93, 0.89, 0.87, 0.86, 0.86, 0.86, 0.86, 0.86, 0.86, 0.86, 0.85, 0.85, 0.85],
    [1.45, 1.45, 1.4, 1.35, 1.08, 0.88, 0.82, 0.8, 0.79, 0.78, 0.78, 0.78, 0.78, 0.78, 0.78, 0.77, 0.77, 0.77, 0.77],
    [1.6, 1.6, 1.55, 1.5, 1.2, 0.95, 0.87, 0.84, 0.82, 0.81, 0.81, 0.81, 0.81, 0.81, 0.81, 0.81, 0.8, 0.8, 0.8],
    [1.95, 1.9, 1.85, 1.8, 1.45, 1.08, 0.97, 0.93, 0.91, 0.9, 0.9, 0.9, 0.9, 0.9, 0.9, 0.9, 0.9, 0.9, 0.9],
]

x_twist = [3, 4, 5, 6, 7, 8, 9, 10, 11, 12, 14, 16, 18, 20, 25, 30, 35, 40, 45, 50, 60, 72]
twist = [
    [9, 8, 2.8, 2.4, 2.2, 2.1, 2.0, 1.95, 1.9, 1.85, 1.75, 1.68, 1.6, 1.55, 1.4, 1.3, 1.2, 1.12, 1.05, 1.0, 0.93, 0.88],
    [9, 7, 2.6, 2.3, 2.1, 2.0, 1.92, 1.85, 1.8, 1.75, 1.65, 1.58, 1.5, 1.45, 1.32, 1.22, 1.13, 1.06, 1.0, 0.95, 0.9, 0.86],
    [9, 8, 3.0, 2.5, 2.3, 2.2, 2.1, 2.0, 1.95, 1.9, 1.8, 1.72, 1.65, 1.58, 1.45, 1.34, 1.24, 1.15, 1.08, 1.02, 0.95, 0.9],
    [9, 9, 3.2, 2.6, 2.35, 2.2, 2.1, 2.05, 2.0, 1.95, 1.85, 1.75, 1.68, 1.6, 1.45, 1.33, 1.22, 1.13, 1.06, 1.0, 0.93, 0.88],
    [6, 3.0, 2.0, 1.7, 1.5, 1.4, 1.3, 1.2, 1.15, 1.1, 1.02, 0.95, 0.88, 0.82, 0.7, 0.6, 0.55, 0.52, 0.5, 0.48, 0.45, 0.42],
    [9, 9, 9, 8, 7, 6.5, 2.6, 2.2, 2.05, 1.95, 1.8, 1.7, 1.62, 1.55, 1.4, 1.28, 1.18, 1.1, 1.03, 0.98, 0.92, 0.87],
    [7, 3.5, 1.6, 1.35, 1.2, 1.1, 1.05, 1.0, 1.0, 0.98, 0.96, 0.95, 0.94, 0.93, 0.9, 0.86, 0.83, 0.8, 0.78, 0.76, 0.74, 0.72],
    [5.3, 5.0, 4.6, 2.0, 1.8, 1.7, 1.65, 1.6, 1.55, 1.5, 1.45, 1.4, 1.35, 1.3, 1.2, 1.12, 1.05, 0.98, 0.93, 0.9, 0.86, 0.83],
    [9, 9, 9, 9, 9, 9, 9, 8, 2.3, 2.2, 2.5, 2.4, 2.0, 1.8, 1.55, 1.4, 1.3, 1.2, 1.12, 1.06, 0.98, 0.92],
    [9, 8, 2.7, 2.35, 2.15, 2.05, 1.97, 1.9, 1.85, 1.8, 1.7, 1.62, 1.55, 1.5, 1.36, 1.26, 1.17, 1.09, 1.03, 0.98, 0.92, 0.87],
    [9, 7.5, 2.9, 2.45, 2.25, 2.12, 2.03, 1.96, 1.9, 1.85, 1.75, 1.67, 1.6, 1.54, 1.4, 1.3, 1.2, 1.12, 1.05, 1.0, 0.93, 0.88],
    [9, 9, 3.4, 2.7, 2.45, 2.3, 2.2, 2.12, 2.05, 2.0, 1.9, 1.82, 1.75, 1.7, 1.6, 1.55, 1.5, 1.48, 1.45, 1.42, 1.2, 1.0],
    [9, 8.5, 3.0, 2.5, 2.3, 2.2, 2.1, 2.0, 1.95, 1.9, 1.8, 1.72, 1.65, 1.6, 1.45, 1.34, 1.25, 1.16, 1.08, 1.02, 0.95, 0.9],
    [9, 9, 9, 7, 2.5, 2.2, 2.05, 1.95, 1.88, 1.82, 1.72, 1.64, 1.57, 1.5, 1.36, 1.25, 1.16, 1.08, 1.02, 0.97, 0.91, 0.86],
    [9, 7, 2.5, 2.2, 2.05, 1.95, 1.88, 1.82, 1.77, 1.72, 1.64, 1.56, 1.5, 1.45, 1.32, 1.22, 1.14, 1.07, 1.01, 0.96, 0.9, 0.86],
    [9, 8.5, 3.1, 2.55, 2.3, 2.18, 2.08, 2.0, 1.94, 1.88, 1.78, 1.7, 1.63, 1.57, 1.43, 1.32, 1.22, 1.14, 1.07, 1.01, 0.94, 0.89],
    [9, 7.5, 2.6, 2.3, 2.1, 2.0, 1.92, 1.86, 1.8, 1.75, 1.66, 1.58, 1.52, 1.46, 1.33, 1.23, 1.15, 1.08, 1.02, 0.97, 0.91, 0.86],
    [9, 9, 8, 2.4, 2.15, 2.02, 1.94, 1.87, 1.82, 1.77, 1.68, 1.6, 1.53, 1.47, 1.34, 1.24, 1.15, 1.08, 1.02, 0.97, 0.91, 0.86],
    [9, 8, 2.9, 2.45, 2.25, 2.12, 2.04, 1.97, 1.9, 1.85, 1.76, 1.68, 1.61, 1.55, 1.41, 1.3, 1.21, 1.13, 1.06, 1.01, 0.94, 0.89],
    [9, 7.5, 2.6, 2.3, 2.1, 2.0, 1.93, 1.87, 1.81, 1.76, 1.67, 1.59, 1.52, 1.46, 1.34, 1.24, 1.15, 1.08, 1.02, 0.97, 0.91, 0.86],
    [9, 8.5, 3.0, 2.5, 2.3, 2.2, 2.1, 2.02, 1.96, 1.9, 1.8, 1.72, 1.65, 1.59, 1.45, 1.34, 1.24, 1.16, 1.09, 1.03, 0.96, 0.91],
    [9, 6.5, 2.2, 1.95, 1.8, 1.72, 1.66, 1.6, 1.55, 1.5, 1.42, 1.36, 1.3, 1.25, 1.15, 1.06, 0.99, 0.93, 0.88, 0.84, 0.8, 0.76],
    [9, 7.5, 2.4, 2.1, 1.95, 1.85, 1.78, 1.72, 1.67, 1.62, 1.54, 1.47, 1.41, 1.36, 1.25, 1.16, 1.08, 1.02, 0.97, 0.92, 0.87, 0.83],
    [9, 9, 3.3, 2.65, 2.4, 2.28, 2.18, 2.1, 2.04, 1.98, 1.88, 1.8, 1.73, 1.67, 1.55, 1.45, 1.37, 1.3, 1.24, 1.18, 1.05, 0.97],
]

colors = ['black', 'red', '#00dd00', 'blue']
dashes = ['-', (0, (1, 1.5)), (0, (3, 2)), (0, (5, 1.5, 1, 1.5)),
          (0, (5, 1.5, 1, 1.5, 1, 1.5)), (0, (6, 2, 6, 2))]
lw = 0.8
gray = '#555555'

fig = plt.figure(figsize=(4.15, 5.78), dpi=100)


def style_axes(ax, xmaj, xmin, ymaj, ymin, fs):
    ax.xaxis.set_major_locator(MultipleLocator(xmaj))
    ax.xaxis.set_minor_locator(MultipleLocator(xmin))
    ax.yaxis.set_major_locator(MultipleLocator(ymaj))
    ax.yaxis.set_minor_locator(MultipleLocator(ymin))
    ax.tick_params(which='both', direction='in', top=True, right=True,
                   labelsize=fs, width=0.7, colors=gray, labelcolor='black', pad=2)
    ax.tick_params(which='major', length=4)
    ax.tick_params(which='minor', length=2)
    for s in ax.spines.values():
        s.set_color(gray)
        s.set_linewidth(1.0)


# main panel
ax = fig.add_axes([0.058, 0.5554, 0.797, 0.4116])
handles = []
for i, lab in enumerate(labels):
    h, = ax.plot(x_main, rmsd_main[i], color=colors[i % 4], ls=dashes[i // 4], lw=lw, label=lab)
    handles.append(h)
ax.axhline(3, color=gray, lw=1.0)
ax.set_xlim(0, 72)
ax.set_ylim(0, 6)
style_axes(ax, 10, 1, 1, 0.5, 7.5)
ax.set_xlabel('Wavenumber Count', fontsize=7.5, labelpad=1)
ax.set_ylabel('RMSD (Å)', fontsize=7.5, labelpad=2)

leg = fig.legend(handles=handles, loc='upper left', bbox_to_anchor=(0.853, 0.998),
                 fontsize=7, frameon=True, fancybox=False, handlelength=2.6,
                 handletextpad=0.6, labelspacing=0.2, borderpad=0.35, borderaxespad=0)
leg.get_frame().set_edgecolor('black')
leg.get_frame().set_linewidth(0.8)

# six small panels
panels = [('Shift', x_shift, shift), ('Tilt', x_tilt, tilt),
          ('Slide', x_slide, slide), ('Roll', x_roll, roll),
          ('Rise', x_rise, rise), ('Twist', x_twist, twist)]
lefts = [0.058, 0.552]
bottoms = [0.358, 0.1886, 0.019]
for k, (title, xs, ys) in enumerate(panels):
    a = fig.add_axes([lefts[k % 2], bottoms[k // 2], 0.429, 0.090])
    for i in range(len(labels)):
        a.plot(xs, ys[i], color=colors[i % 4], ls=dashes[i // 4], lw=lw)
    a.axhline(3, color=gray, lw=1.0)
    a.set_xlim(0, 75)
    a.set_ylim(0, 6)
    style_axes(a, 20, 10, 2, 1, 7.5)
    a.set_title(title, fontsize=8, pad=9)

fig.savefig('out.png', dpi=100, facecolor='white')
